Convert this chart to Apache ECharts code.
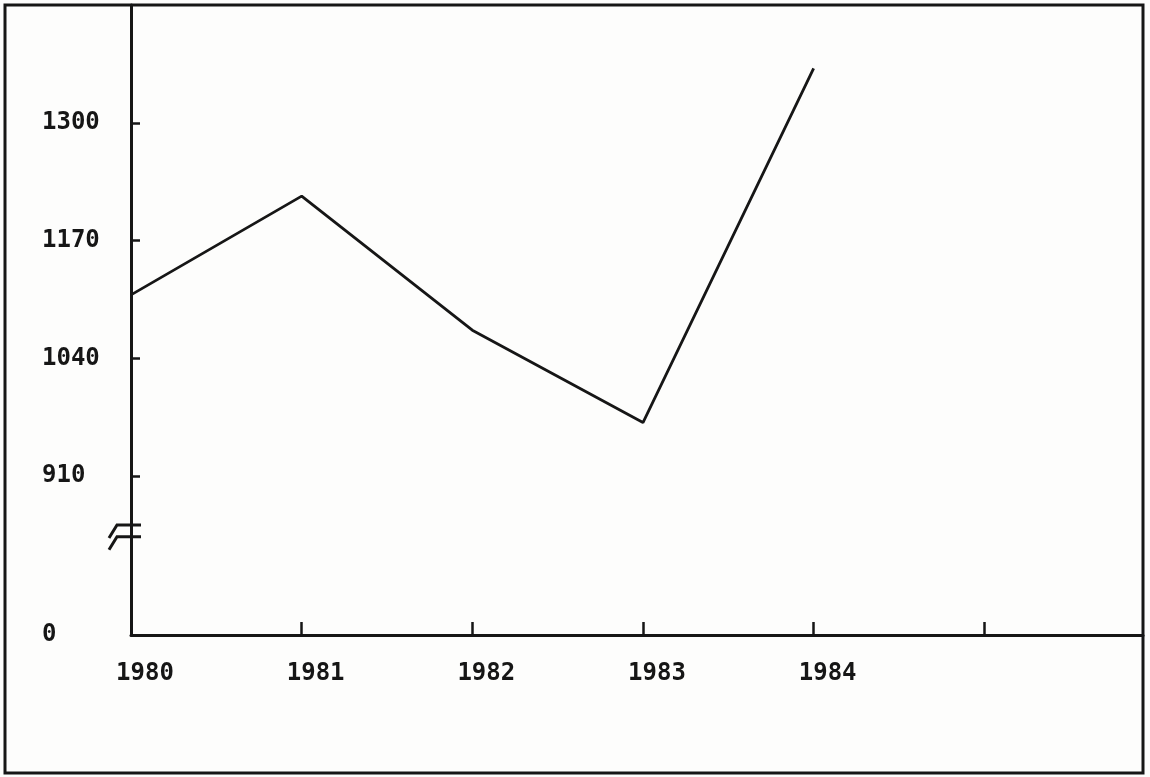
<!DOCTYPE html>
<html>
<head>
<meta charset="utf-8">
<script src="https://cdn.jsdelivr.net/npm/echarts@6/dist/echarts.min.js"></script>
<style>
html,body{margin:0;padding:0;background:#fdfdfc;}
#c{width:1150px;height:777px;}
</style>
</head>
<body>
<div id="c"></div>
<script>
const years = [1980, 1981, 1982, 1983, 1984];
const values = [1110, 1219, 1071, 969, 1360];
const xTickValues = [1980, 1981, 1982, 1983, 1984, 1985];
const xLabelValues = [1980, 1981, 1982, 1983, 1984];
const yAxisBottom = 734.5;           // position of the broken-axis "0"
const yTickValues = [910, 1040, 1170, 1300];
const yLabelValues = [734.5, 910, 1040, 1170, 1300];
const yLabelTexts = ['0', '910', '1040', '1170', '1300'];

const INK = '#161616';
const FONT = 'DejaVu Sans Mono';

const chart = echarts.init(document.getElementById('c'), null, {renderer: 'canvas'});
const option = {
  backgroundColor: '#fdfdfc',
  animation: false,
  grid: {left: 131, top: 5, right: 7, bottom: 142, containLabel: false},
  xAxis: {
    type: 'value', min: 1980, max: 1985.93,
    splitLine: {show: false},
    axisLine: {lineStyle: {color: INK, width: 3}},
    axisTick: {show: true, inside: true, length: 13, customValues: xTickValues, lineStyle: {color: INK, width: 2.5}},
    axisLabel: {
      customValues: xLabelValues,
      formatter: v => String(v),
      color: INK, fontFamily: FONT, fontWeight: 'bold', fontSize: 24,
      verticalAlign: 'middle', margin: 39, align: 'center', padding: [0, 0, 0, 28]
    }
  },
  yAxis: {
    type: 'value', min: yAxisBottom, max: 1430,
    splitLine: {show: false},
    axisLine: {lineStyle: {color: INK, width: 3}},
    axisTick: {show: true, inside: true, length: 9, customValues: yTickValues, lineStyle: {color: INK, width: 2.5}},
    axisLabel: {
      customValues: yLabelValues,
      formatter: v => { const i = yLabelValues.indexOf(v); return i >= 0 ? yLabelTexts[i] : ''; },
      color: INK, fontFamily: FONT, fontWeight: 'bold', fontSize: 24,
      align: 'left', margin: 89, verticalAlign: 'middle', padding: [0, 0, 20, 0]
    }
  },
  series: [{
    type: 'line',
    data: years.map((y, i) => [y, values[i]]),
    showSymbol: false,
    lineStyle: {color: INK, width: 2.8},
    clip: false
  }]
};
chart.setOption(option);

// decorations: outer frame and axis-break symbol
const p1 = chart.convertToPixel({gridIndex: 0}, [1980, 856]);
const p2 = chart.convertToPixel({gridIndex: 0}, [1980, 843]);
const brk = (p) => ({
  type: 'polyline',
  shape: {points: [[p[0] - 22, p[1] + 13], [p[0] - 14, p[1]], [p[0] + 10, p[1]]]},
  style: {stroke: INK, lineWidth: 3, fill: null}
});
chart.setOption({
  graphic: [
    {type: 'rect', shape: {x: 5, y: 5, width: 1138, height: 768}, style: {fill: null, stroke: INK, lineWidth: 3}, z: 100},
    brk(p1), brk(p2)
  ]
});
</script>
</body>
</html>
